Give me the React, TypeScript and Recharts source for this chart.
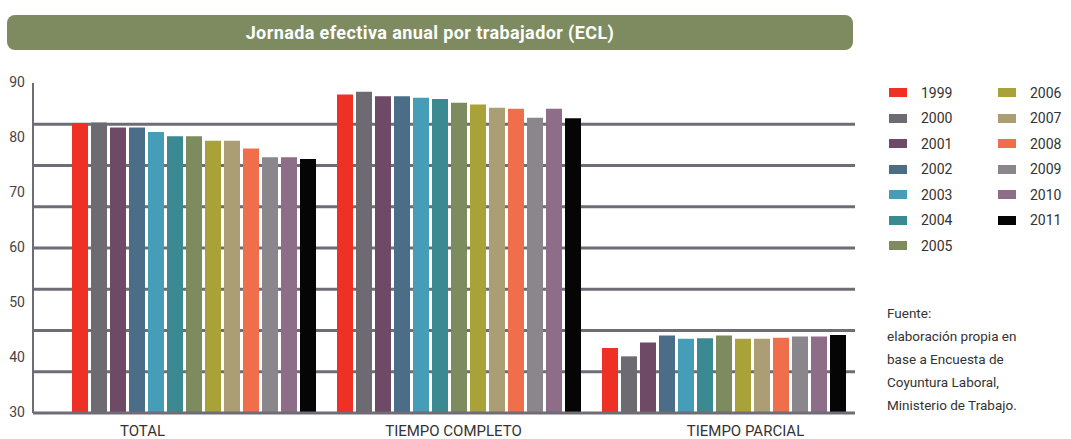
import { Bar, BarChart, CartesianGrid, XAxis, YAxis } from 'recharts';

const categories = ['TOTAL', 'TIEMPO COMPLETO', 'TIEMPO PARCIAL'];
const years = ['1999', '2000', '2001', '2002', '2003', '2004', '2005', '2006', '2007', '2008', '2009', '2010', '2011'];
const yearColors = [
  '#ee3124', '#6d6a72', '#6e4a66', '#4b6d88', '#459db8', '#3b8a92', '#7e8b5e',
  '#a9a238', '#ab9d74', '#f06e4c', '#8b868c', '#8d6d87', '#050505',
];
const totalValues = [82.7, 82.8, 81.9, 81.9, 81.1, 80.3, 80.3, 79.5, 79.5, 78.1, 76.5, 76.5, 76.2];
const completoValues = [87.9, 88.4, 87.6, 87.6, 87.3, 87.1, 86.4, 86.1, 85.5, 85.3, 83.7, 85.3, 83.6];
const parcialValues = [41.8, 40.3, 42.8, 44.1, 43.5, 43.6, 44.1, 43.5, 43.5, 43.7, 43.9, 43.9, 44.2];
const yTicks = [30, 40, 50, 60, 70, 80, 90];
const gridValues = [37.5, 45, 52.5, 60, 67.5, 75, 82.5];
const sourceLines = [
  'Fuente:',
  'elaboración propia en',
  'base a Encuesta de',
  'Coyuntura Laboral,',
  'Ministerio de Trabajo.',
];

const seriesByCategory = [totalValues, completoValues, parcialValues];
const data = categories.map((name, ci) => {
  const row: Record<string, string | number> = { name };
  years.forEach((y, yi) => {
    row[y] = seriesByCategory[ci][yi];
  });
  return row;
});

const GRID = '#6f6c75';
const FONT = 'Roboto, "Open Sans", sans-serif';

// category labels in the original sit a bit off the group centres
const labelShift: Record<string, number> = { TOTAL: -50, 'TIEMPO COMPLETO': -4, 'TIEMPO PARCIAL': 23 };

function CategoryTick({ x, y, payload }: any) {
  return (
    <text
      x={x + (labelShift[payload.value] ?? 0)}
      y={y}
      dy="0.71em"
      textAnchor="middle"
      fill="#333"
      fontSize={15}
      fontFamily={FONT}
    >
      {payload.value}
    </text>
  );
}

function LegendBlock() {
  const cols = [years.slice(0, 7), years.slice(7)];
  return (
    <div style={{ position: 'absolute', left: 889, top: 80, display: 'flex' }}>
      {cols.map((col, c) => (
        <div key={c} style={{ width: 109 }}>
          {col.map((y) => (
            <div key={y} style={{ display: 'flex', alignItems: 'center', height: 25.5 }}>
              <span
                style={{
                  display: 'inline-block',
                  width: 18,
                  height: 9,
                  background: yearColors[years.indexOf(y)],
                  marginRight: 14,
                }}
              />
              <span style={{ fontFamily: FONT, fontSize: 14, color: '#333' }}>{y}</span>
            </div>
          ))}
        </div>
      ))}
    </div>
  );
}

export default function App() {
  return (
    <div style={{ position: 'absolute', left: 0, top: 0, width: 1071, height: 439, background: '#fff' }}>
      <div
        style={{
          position: 'absolute',
          left: 7,
          top: 15,
          width: 846,
          height: 35,
          borderRadius: 8,
          background: '#7e8b60',
          color: '#fff',
          fontFamily: FONT,
          fontWeight: 700,
          fontSize: 18,
          letterSpacing: 0.4,
          lineHeight: '35px',
          textAlign: 'center',
        }}
      >
        Jornada efectiva anual por trabajador (ECL)
      </div>

      <div style={{ position: 'absolute', left: 0, top: 0 }}>
        <BarChart
          width={1071}
          height={439}
          data={data}
          margin={{ top: 83, right: 216, bottom: 0, left: 0 }}
          barCategoryGap={12}
          barGap={3}
        >
          <CartesianGrid
            horizontal
            vertical={false}
            horizontalValues={gridValues}
            stroke={GRID}
            strokeWidth={3}
          />
          <XAxis
            dataKey="name"
            height={26}
            padding={{ left: 27, right: 0 }}
            axisLine={{ stroke: GRID, strokeWidth: 3 }}
            tickLine={false}
            tickSize={0}
            tickMargin={12}
            tick={<CategoryTick />}
          />
          <YAxis
            width={33}
            domain={[30, 90]}
            ticks={yTicks}
            allowDataOverflow
            axisLine={{ stroke: GRID, strokeWidth: 2 }}
            tickLine={false}
            tickSize={0}
            tickMargin={8}
            tick={{ fill: '#444', fontSize: 14, fontFamily: FONT, dy: -1 }}
          />
          {years.map((y, i) => (
            <Bar key={y} dataKey={y} fill={yearColors[i]} isAnimationActive={false} />
          ))}
        </BarChart>
      </div>

      <LegendBlock />

      <div
        style={{
          position: 'absolute',
          left: 887,
          top: 302,
          fontFamily: FONT,
          fontSize: 13.5,
          lineHeight: '23px',
          color: '#333',
        }}
      >
        {sourceLines.map((l) => (
          <div key={l}>{l}</div>
        ))}
      </div>
    </div>
  );
}
